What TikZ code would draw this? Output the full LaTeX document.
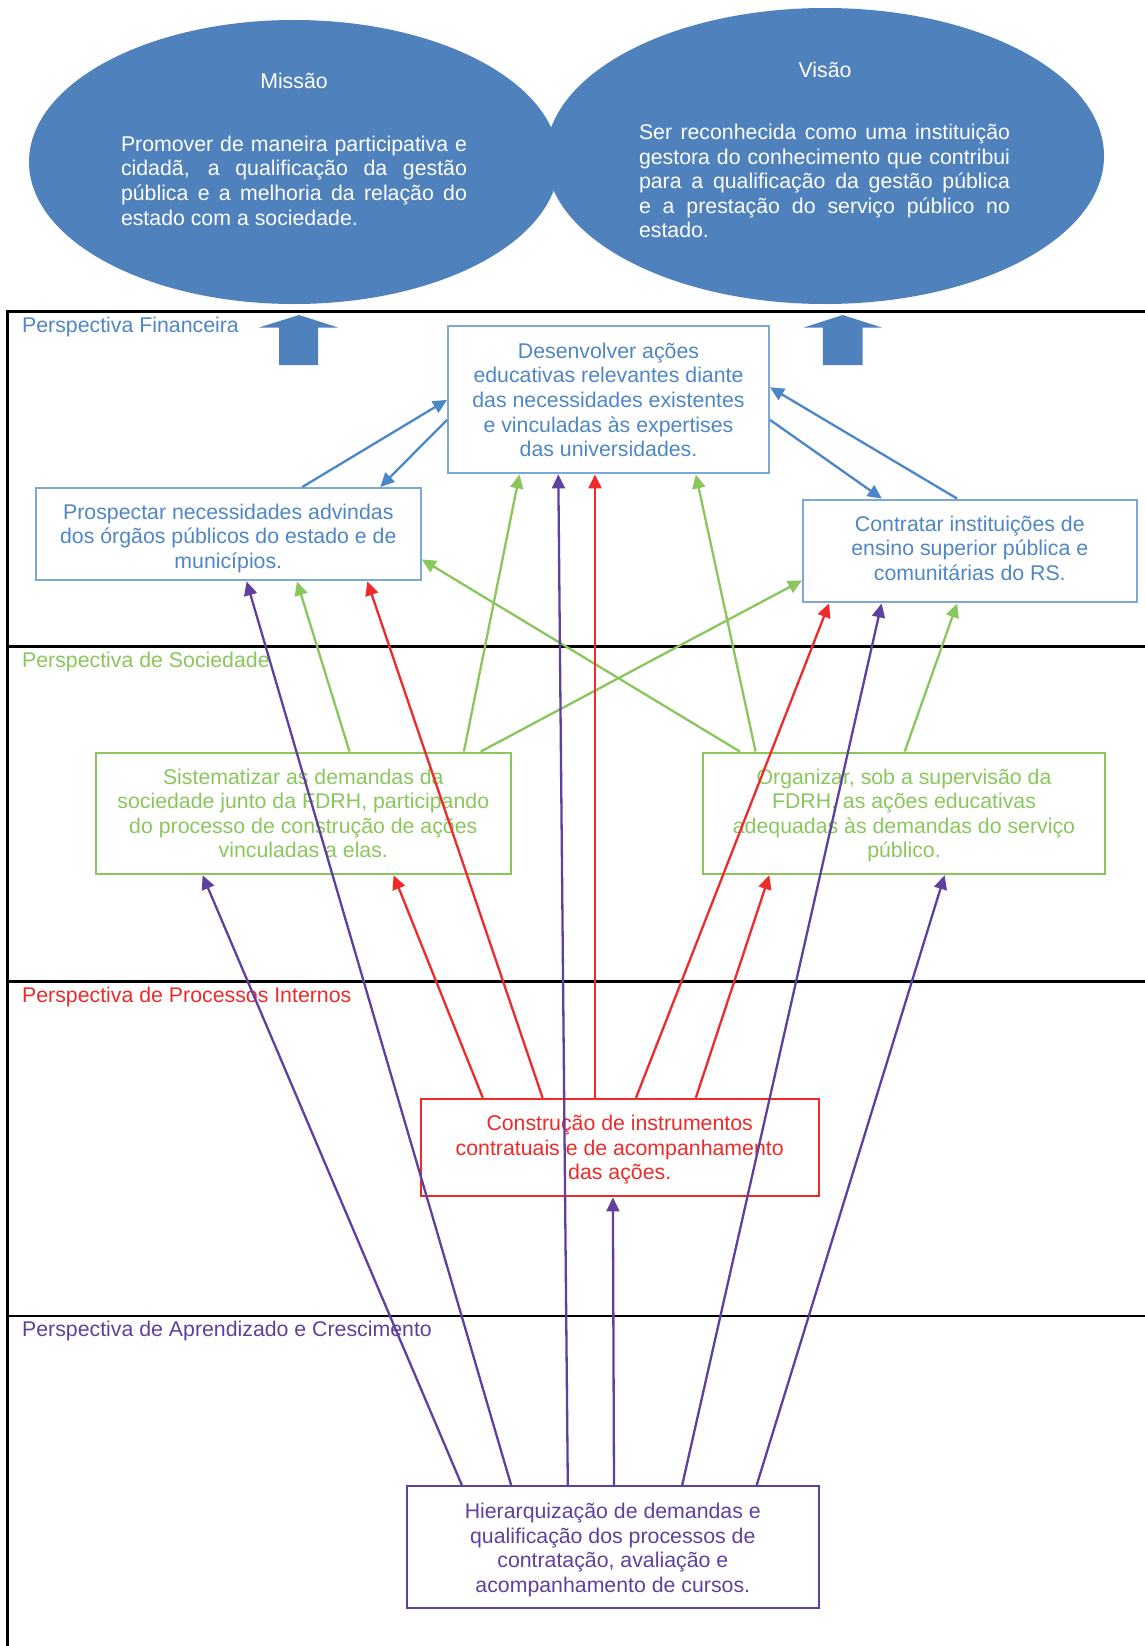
\documentclass[tikz,border=0pt]{standalone}
\usepackage{fontspec}
\setmainfont{Liberation Sans}
\usetikzlibrary{arrows.meta}
\definecolor{ellblue}{RGB}{79,129,189}
\definecolor{bltext}{RGB}{79,134,198}
\definecolor{blbord}{RGB}{125,167,217}
\definecolor{blline}{RGB}{74,134,200}
\definecolor{grn}{RGB}{137,199,92}
\definecolor{rd}{RGB}{238,42,42}
\definecolor{pur}{RGB}{96,64,158}
\begin{document}
\begin{tikzpicture}[x=1pt,y=-1pt,
  txt/.style={font=\fontsize{21.3}{24.6}\selectfont, align=center, inner sep=0pt},
  box/.style={draw, line width=2pt, inner sep=0pt},
  lbl/.style={font=\fontsize{21.3}{24.6}\selectfont, anchor=west, inner sep=0pt},
  conn/.style={line width=2.3pt, -{Triangle[length=14pt,width=13pt]}},
  frameline/.style={line width=2.6pt, black},
  blockarrow/.style={fill=ellblue}
]
\fill[white] (0,0) rectangle (1145,1646);
\useasboundingbox (0,0) rectangle (1145,1646);

% ellipses
\fill[ellblue] (294,162) ellipse [x radius=265, y radius=142];
\fill[ellblue] (825,156) ellipse [x radius=279, y radius=148];

\node[txt, text=white] (mtit) at (294,81) {Missão};
\node[txt, text=white, align=left] (mtxt) at (294,180.5) {%
\makebox[346pt][s]{Promover de maneira participativa e}\\
\makebox[346pt][s]{cidadã, a qualificação da gestão}\\
\makebox[346pt][s]{pública e a melhoria da relação do}\\
estado com a sociedade.};

\node[txt, text=white] (vtit) at (825,69.5) {Visão};
\node[txt, text=white, align=left] (vtxt) at (824.5,181) {%
\makebox[371pt][s]{Ser reconhecida como uma instituição}\\
\makebox[371pt][s]{gestora do conhecimento que contribui}\\
\makebox[371pt][s]{para a qualificação da gestão pública}\\
\makebox[371pt][s]{e a prestação do serviço público no}\\
estado.};

% frame
\draw[frameline] (7.3,1646) -- (7.3,311.7) -- (1145,311.7);
\draw[frameline] (7.3,646.5) -- (1145,646.5);
\draw[frameline] (7.3,981.3) -- (1145,981.3);
\draw[frameline] (7.3,1316) -- (1145,1316);

% block arrows
\fill[blockarrow] (299,315) -- (338,327.5) -- (318,327.5) -- (318,365) -- (279,365) -- (279,327.5) -- (259,327.5) -- cycle;
\fill[blockarrow] (842.7,315) -- (881.6,327.5) -- (862.7,327.5) -- (862.7,365) -- (822.8,365) -- (822.8,327.5) -- (803.9,327.5) -- cycle;

% labels
\node[lbl, text=bltext] (l1) at (22,327) {Perspectiva Financeira};
\node[lbl, text=grn] (l2) at (22,661.5) {Perspectiva de Sociedade};
\node[lbl, text=rd] (l3) at (22,996.5) {Perspectiva de Processos Internos};
\node[lbl, text=pur] (l4) at (22,1331) {Perspectiva de Aprendizado e Crescimento};

% boxes
\node[box, draw=blbord, minimum width=321pt, minimum height=147pt] (des) at (608.5,399.9) {};
\node[txt, text=bltext] (dest) at (608.5,399.9)
 {Desenvolver ações\\educativas relevantes diante\\das necessidades existentes\\e vinculadas às expertises\\das universidades.};
\node[box, draw=blbord, minimum width=385pt, minimum height=92.4pt] (pro) at (228.3,534.2) {};
\node[txt, text=bltext] (prot) at (228.3,538.2)
 {Prospectar necessidades advindas\\dos órgãos públicos do estado e de\\municípios.};
\node[box, draw=blbord, minimum width=333.6pt, minimum height=102.8pt] (con) at (969.8,551) {};
\node[txt, text=bltext] (cont) at (969.8,548)
 {Contratar instituições de\\ensino superior pública e\\comunitárias do RS.};
\node[box, draw=grn, minimum width=415.5pt, minimum height=121.7pt] (sis) at (303.3,813.4) {};
\node[txt, text=grn] (sist) at (303.3,813.4)
 {Sistematizar as demandas da\\sociedade junto da FDRH, participando\\do processo de construção de ações\\vinculadas a elas.};
\node[box, draw=grn, minimum width=402pt, minimum height=121.7pt] (org) at (904,813.4) {};
\node[txt, text=grn] (orgt) at (904,815.4)
 {Organizar, sob a supervisão da\\FDRH, as ações educativas\\adequadas às demandas do serviço\\público.};
\node[box, draw=rd, minimum width=397.8pt, minimum height=97.6pt] (cons) at (619.7,1147.6) {};
\node[txt, text=rd] (const) at (619.7,1149.6)
 {Construção de instrumentos\\contratuais e de acompanhamento\\das ações.};
\node[box, draw=pur, minimum width=411.6pt, minimum height=122pt] (hie) at (612.8,1547) {};
\node[txt, text=pur] (hiet) at (612.8,1550)
 {Hierarquização de demandas e\\qualificação dos processos de\\contratação, avaliação e\\acompanhamento de cursos.};

% blue connectors
\draw[conn, blline] ([xshift=74pt]pro.north) -- (des.west);
\draw[conn, blline] ([yshift=-20pt]des.west) -- ([xshift=152pt]pro.north);
\draw[conn, blline] ([yshift=-20pt]des.east) -- ([xshift=-88pt]con.north);
\draw[conn, blline] ([xshift=-12.7pt]con.north) -- ([yshift=12.6pt]des.east);

% green connectors
\draw[conn, grn] ([xshift=46.2pt]sis.north) -- ([xshift=68.7pt]pro.south);
\draw[conn, grn] ([xshift=160.6pt]sis.north) -- ([xshift=-89pt]des.south);
\draw[conn, grn] ([xshift=177.4pt]sis.north) -- ([yshift=-29.4pt]con.west);
\draw[conn, grn] ([xshift=-164.1pt]org.north) -- ([yshift=-25.2pt]pro.east);
\draw[conn, grn] ([xshift=-148.4pt]org.north) -- ([xshift=87.3pt]des.south);
\draw[conn, grn] ([xshift=0.7pt]org.north) -- ([xshift=-12.7pt]con.south);

% red connectors
\draw[conn, rd] ([xshift=-136.9pt]cons.north) -- ([xshift=90.3pt]sis.south);
\draw[conn, rd] ([xshift=-77.1pt]cons.north) -- ([xshift=139pt]pro.south);
\draw[conn, rd] ([xshift=-24.7pt]cons.north) -- ([xshift=-13.5pt]des.south);
\draw[conn, rd] ([xshift=16.3pt]cons.north) -- ([xshift=-140.7pt]con.south);
\draw[conn, rd] ([xshift=76.1pt]cons.north) -- ([xshift=-134.7pt]org.south);

% purple connectors
\draw[conn, pur] ([xshift=-151pt]hie.north) -- ([xshift=-100.7pt]sis.south);
\draw[conn, pur] ([xshift=-101.7pt]hie.north) -- ([xshift=18.3pt]pro.south);
\draw[conn, pur] ([xshift=-45pt]hie.north) -- ([xshift=-50.2pt]des.south);
\draw[conn, pur] ([xshift=1.2pt]hie.north) -- ([xshift=-6.8pt]cons.south);
\draw[conn, pur] ([xshift=69.4pt]hie.north) -- ([xshift=-88.2pt]con.south);
\draw[conn, pur] ([xshift=143.9pt]hie.north) -- ([xshift=40.6pt]org.south);
\end{tikzpicture}
\end{document}
